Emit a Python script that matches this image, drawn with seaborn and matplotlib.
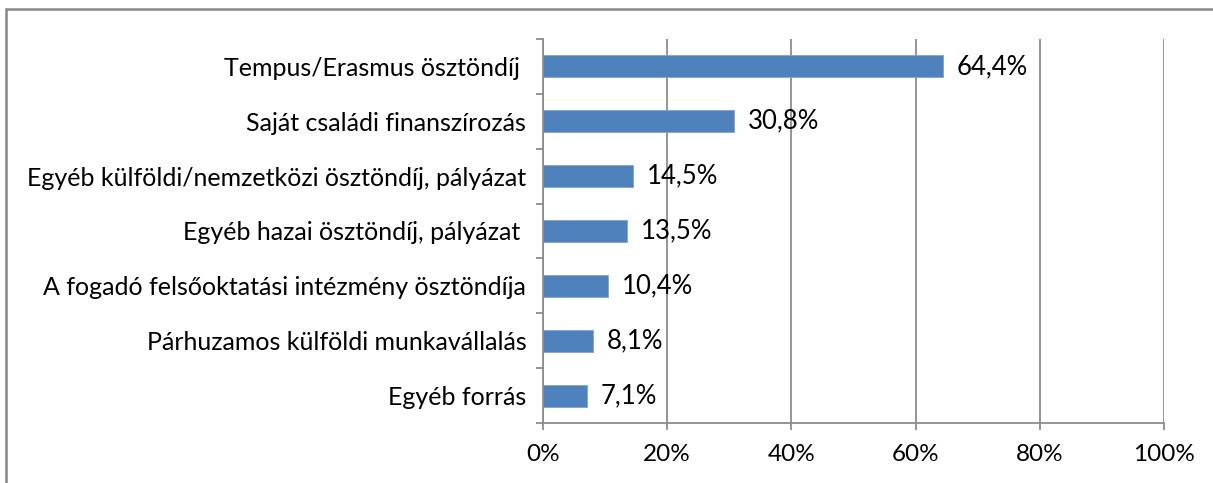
import matplotlib
matplotlib.use("Agg")
import matplotlib.pyplot as plt
import seaborn as sns
import pandas as pd
from matplotlib.patches import Rectangle
from matplotlib.ticker import FixedLocator, FuncFormatter

categories = [
    "Tempus/Erasmus ösztöndíj ",
    "Saját családi finanszírozás",
    "Egyéb külföldi/nemzetközi ösztöndíj, pályázat",
    "Egyéb hazai ösztöndíj, pályázat ",
    "A fogadó felsőoktatási intézmény ösztöndíja",
    "Párhuzamos külföldi munkavállalás",
    "Egyéb forrás",
]
values = [64.4, 30.8, 14.5, 13.5, 10.4, 8.1, 7.1]
x_ticks = [0, 20, 40, 60, 80, 100]

sns.set_theme(style="white")
plt.rcParams["font.family"] = ["Lato", "DejaVu Sans"]

df = pd.DataFrame({"cat": categories, "val": values})

fig = plt.figure(figsize=(12.13, 4.83), dpi=100)
ax = fig.add_axes([543/1213, 1-423/483, (1164-543)/1213, (423-39)/483])

sns.barplot(data=df, x="val", y="cat", orient="h", color="#4F81BD",
            width=0.4, saturation=1, edgecolor="#7FA3D0", linewidth=0.6, ax=ax)

grid_c = "#8C8C8C"
ax.set_xlim(0, 100)
ax.set_ylim(len(categories) - 0.5, -0.5)
ax.xaxis.set_major_locator(FixedLocator(x_ticks))
ax.xaxis.set_major_formatter(FuncFormatter(lambda v, p: f"{int(v)}%"))
ax.grid(axis="x", color=grid_c, linewidth=1.3)
ax.set_axisbelow(True)
ax.set_xlabel("")
ax.set_ylabel("")

for s in ["top", "right"]:
    ax.spines[s].set_visible(False)
for s in ["left", "bottom"]:
    ax.spines[s].set_color(grid_c)
    ax.spines[s].set_linewidth(1.3)

ax.tick_params(axis="x", which="major", length=5, width=1.3, color=grid_c,
               labelsize=17.5, pad=10, labelcolor="black", bottom=True)
ax.tick_params(axis="y", which="major", length=0, labelsize=18, pad=12,
               labelcolor="black")
ax.yaxis.set_minor_locator(FixedLocator([i - 0.5 for i in range(len(categories) + 1)]))
ax.tick_params(axis="y", which="minor", length=5, width=1.3, color=grid_c, left=True)

for i, v in enumerate(values):
    ax.annotate(f"{v:.1f}%".replace(".", ","), xy=(v, i), xytext=(10, 0),
                textcoords="offset points", va="center", ha="left", fontsize=18.5,
                color="black")

fig.patches.append(Rectangle((6/1213, -0.1), 1.2, 1 - 9/483 + 0.1,
                             transform=fig.transFigure, fill=False,
                             edgecolor="#878787", linewidth=1.8))

fig.savefig("out.png", dpi=100)
